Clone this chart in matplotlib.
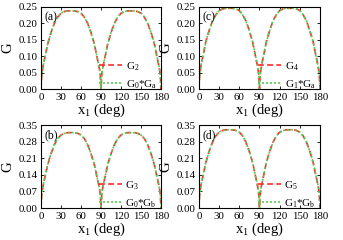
import matplotlib
matplotlib.use('Agg')
import matplotlib.pyplot as plt

plt.rcParams['font.family'] = 'Liberation Serif'
plt.rcParams['mathtext.fontset'] = 'custom'
plt.rcParams['mathtext.rm'] = 'Liberation Serif'
plt.rcParams['mathtext.default'] = 'regular'

# x1 in degrees
x1 = [0, 1, 2, 3, 5, 7.5, 10, 15, 20, 25, 30, 35, 40, 45,
      50, 55, 60, 65, 70, 75, 80, 82.5, 85, 87, 88, 89, 90,
      91, 92, 93, 95, 97.5, 100, 105, 110, 115, 120, 125, 130, 135,
      140, 145, 150, 155, 160, 165, 170, 172.5, 175, 177, 178, 179, 180]

# panel (a)
g2 = [0, .040, .057, .069, .088, .112, .137, .172, .200, .219, .231, .236, .238, .238,
      .238, .236, .231, .219, .200, .172, .137, .112, .088, .069, .057, .040, 0,
      .040, .057, .069, .088, .112, .137, .172, .200, .219, .231, .236, .238, .238,
      .238, .236, .231, .219, .200, .172, .137, .112, .088, .069, .057, .040, 0]
g0ga = g2
# panel (c)
g4 = [0, .042, .059, .071, .091, .116, .142, .177, .207, .226, .239, .244, .246, .246,
      .246, .244, .239, .226, .207, .177, .142, .116, .091, .071, .059, .042, 0,
      .042, .059, .071, .091, .116, .142, .177, .207, .226, .239, .244, .246, .246,
      .246, .244, .239, .226, .207, .177, .142, .116, .091, .071, .059, .042, 0]
g1ga = g4
# panel (b)
g3 = [0, .054, .076, .092, .118, .150, .183, .229, .267, .293, .308, .315, .318, .318,
      .318, .315, .308, .293, .267, .229, .183, .150, .118, .092, .076, .054, 0,
      .054, .076, .092, .118, .150, .183, .229, .267, .293, .308, .315, .318, .318,
      .318, .315, .308, .293, .267, .229, .183, .150, .118, .092, .076, .054, 0]
g0gb = g3
# panel (d)
g5 = [0, .056, .079, .096, .122, .155, .190, .238, .277, .304, .320, .327, .330, .330,
      .330, .327, .320, .304, .277, .238, .190, .155, .122, .096, .079, .056, 0,
      .056, .079, .096, .122, .155, .190, .238, .277, .304, .320, .327, .330, .330,
      .330, .327, .320, .304, .277, .238, .190, .155, .122, .096, .079, .056, 0]
g1gb = g5

panels = [
    ('(a)', g2, g0ga, 'G$_2$', 'G$_0$*G$_a$', 0.25, 0.05, [0.1195, 0.629, 0.35, 0.342]),
    ('(c)', g4, g1ga, 'G$_4$', 'G$_1$*G$_a$', 0.25, 0.05, [0.580, 0.629, 0.353, 0.342]),
    ('(b)', g3, g0gb, 'G$_3$', 'G$_0$*G$_b$', 0.35, 0.07, [0.1195, 0.133, 0.35, 0.346]),
    ('(d)', g5, g1gb, 'G$_5$', 'G$_1$*G$_b$', 0.35, 0.07, [0.580, 0.133, 0.353, 0.346]),
]

fig = plt.figure(figsize=(3.43, 2.40), dpi=100)
for tag, ga, gb, la, lb, ymax, ystep, pos in panels:
    ax = fig.add_axes(pos)
    ax.plot(x1, ga, color='#ff2a2a', ls=(0, (3.5, 2)), lw=1.2, label=la)
    ax.plot(x1, gb, color='#55cc55', ls=(0, (1.2, 1.2)), lw=1.2, label=lb)
    ax.set_xlim(0, 180)
    ax.set_ylim(0, ymax)
    ax.set_xticks(range(0, 181, 30))
    yt = [round(i * ystep, 2) for i in range(6)]
    ax.set_yticks(yt)
    ax.set_yticklabels(['%.2f' % v for v in yt])
    ax.tick_params(direction='in', top=True, right=True, labelsize=7.8, length=2, width=0.6, pad=2.5)
    for s in ax.spines.values():
        s.set_linewidth(0.8)
    ax.set_xlabel('x$_1$ (deg)', fontsize=10.5, labelpad=0)
    ax.set_ylabel('G', fontsize=10.5, labelpad=3)
    ax.text(0.03, 0.95, tag, transform=ax.transAxes, fontsize=8.5, va='top', ha='left')
    ax.legend(loc='lower right', bbox_to_anchor=(1.02, -0.10), frameon=False, fontsize=8,
              handlelength=2.1, handletextpad=0.3, labelspacing=0.5, borderaxespad=0.2)

fig.savefig('out.png', dpi=100)
